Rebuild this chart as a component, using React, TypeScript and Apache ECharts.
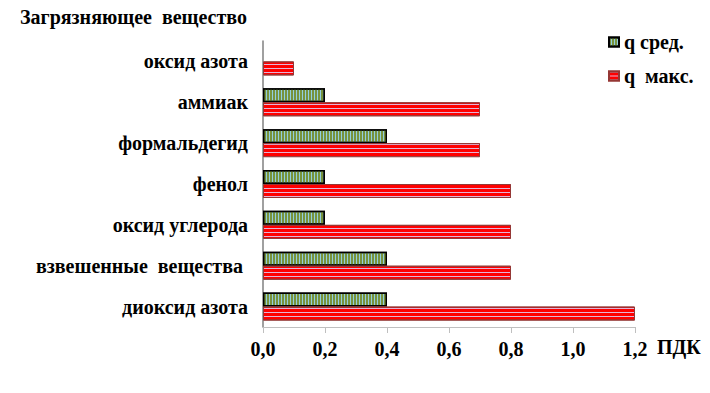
import React, { useEffect, useRef } from "react";
import * as echarts from "echarts";

const titleText = "Загрязняющее  вещество";
const unitText = "ПДК";
const categories = [
  "диоксид азота",
  "взвешенные  вещества ",
  "оксид углерода",
  "фенол",
  "формальдегид",
  "аммиак",
  "оксид азота",
];
const qAvg = [0.4, 0.4, 0.2, 0.2, 0.4, 0.2, null];
const qMax = [1.2, 0.8, 0.8, 0.8, 0.7, 0.7, 0.1];
const seriesNames = ["q сред.", "q  макс."];
const xTicks = { min: 0, max: 1.2, interval: 0.2 };

const FONT = "Liberation Serif";

export default function App() {
  const ref = useRef<HTMLDivElement>(null);
  useEffect(() => {
    if (!ref.current) return;
    const chart = echarts.init(ref.current, null, { renderer: "svg" });
    chart.setOption({
      animation: false,
      textStyle: { fontFamily: FONT },
      grid: { left: 263, right: 75, top: 41, bottom: 66 },
      legend: {
        orient: "vertical",
        left: 603,
        top: 27,
        itemGap: 14,
        itemWidth: 10,
        itemHeight: 9,
        icon: "rect",
        data: seriesNames,
        textStyle: { fontFamily: FONT, fontWeight: "bold", fontSize: 20, color: "#000" },
      },
      xAxis: {
        type: "value",
        min: xTicks.min,
        max: xTicks.max,
        interval: xTicks.interval,
        splitLine: { show: false },
        axisLine: { show: true, lineStyle: { color: "#BFBFBF", width: 1 } },
        axisTick: { show: true, length: 6, lineStyle: { color: "#BFBFBF" } },
        axisLabel: {
          margin: 12,
          fontFamily: FONT,
          fontWeight: "bold",
          fontSize: 20,
          color: "#000",
          formatter: (v: number) => v.toFixed(1).replace(".", ","),
        },
      },
      yAxis: {
        type: "category",
        data: categories,
        axisLine: { show: true, lineStyle: { color: "#808080", width: 1.5 } },
        axisTick: { show: false },
        axisLabel: {
          margin: 15,
          fontFamily: FONT,
          fontWeight: "bold",
          fontSize: 20,
          color: "#000",
        },
      },
      graphic: [
        {
          type: "text",
          left: 20,
          top: 7,
          style: { text: titleText, fontFamily: FONT, fontWeight: "bold", fontSize: 20, fill: "#000" },
        },
        {
          type: "text",
          left: 657,
          top: 337,
          style: { text: unitText, fontFamily: FONT, fontWeight: "bold", fontSize: 20, fill: "#000" },
        },
      ],
      series: [
        {
          name: seriesNames[0],
          type: "bar",
          data: qAvg,
          barWidth: 14,
          barGap: "0%",
          itemStyle: {
            color: "#93CDDD",
            borderColor: "#000",
            borderWidth: 1.5,
            decal: {
              symbol: "rect",
              symbolSize: 1,
              color: "#77933C",
              dashArrayX: [2, 1],
              dashArrayY: [10, 0],
              rotation: 0,
            },
          },
        },
        {
          name: seriesNames[1],
          type: "bar",
          data: qMax,
          barWidth: 14,
          barGap: "0%",
          itemStyle: {
            color: "#FF0000",
            borderColor: "#953735",
            borderWidth: 1,
            decal: {
              symbol: "rect",
              symbolSize: 1,
              color: "#E3B4D6",
              dashArrayX: [10, 0],
              dashArrayY: [1, 3],
              rotation: 0,
            },
          },
        },
      ],
    });
    return () => chart.dispose();
  }, []);
  return <div ref={ref} style={{ width: 710, height: 393, margin: -8 }} />;
}
